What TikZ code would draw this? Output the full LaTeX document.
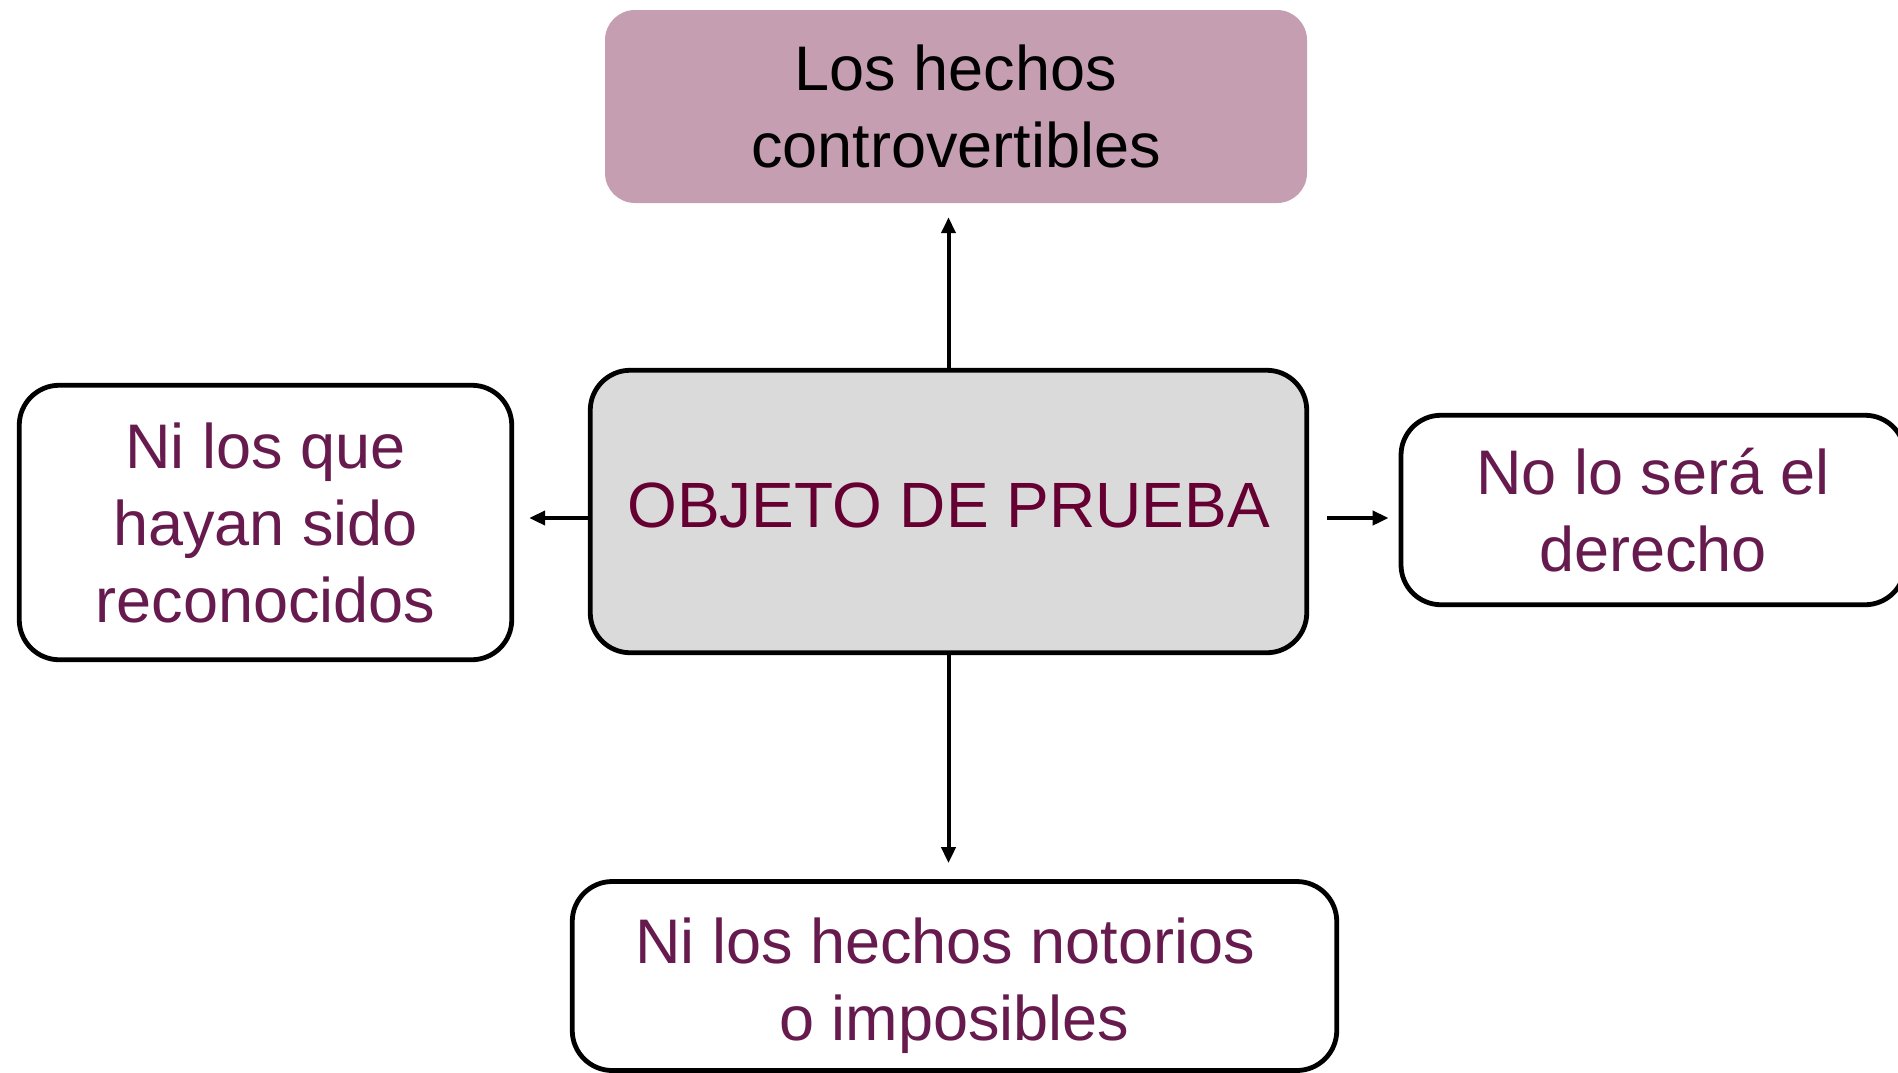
\documentclass[tikz,border=0pt]{standalone}
\usepackage{fontspec}
\setmainfont{Liberation Sans}
\usetikzlibrary{arrows.meta}
\definecolor{txtpurple}{HTML}{661A4D}
\definecolor{txtmaroon}{HTML}{660033}
\definecolor{mauvefill}{RGB}{198,158,178}
\definecolor{grayfill}{RGB}{218,218,218}
\tikzset{
  box/.style={draw=black, line width=4.8pt, rounded corners=40pt, fill=white, align=center,
    inner sep=0pt, text=txtpurple, font=\fontsize{63}{77}\selectfont},
  topbox/.style={fill=mauvefill, rounded corners=30pt, align=center, inner sep=0pt,
    text=black, font=\fontsize{63}{77}\selectfont},
  centerbox/.style={box, fill=grayfill, text=txtmaroon, font=\fontsize{64}{77}\selectfont},
  link/.style={line width=4pt, -{Triangle[length=16pt,width=14pt]}}
}
\begin{document}
\begin{tikzpicture}[x=1pt,y=-1pt]
\useasboundingbox (0,0) rectangle (1898,1072);
\node[topbox, minimum width=702pt, minimum height=193pt] (t) at (956,106.5)
  {Los hechos\\controvertibles};
\node[centerbox, minimum width=716.5pt, minimum height=282.5pt] (c) at (948.5,511.5)
  {OBJETO DE PRUEBA\rule[-12pt]{0pt}{0pt}};
\node[box, minimum width=492.5pt, minimum height=274.5pt] (l) at (265.5,522.5)
  {Ni los que\\hayan sido\\reconocidos};
\node[box, minimum width=504pt, minimum height=189.5pt] (r) at (1653,510)
  {No lo será el\\derecho};
\node[box, minimum width=764.5pt, minimum height=189pt] (b) at (954.5,976)
  {\rule{0pt}{65pt}Ni los hechos notorios\hspace*{19pt}\\o imposibles};
\coordinate (ya) at (0,518);
\coordinate (cl) at (c.west |- ya);
\coordinate (cr) at (c.east |- ya);
\draw[link, shorten >=14pt] (c.north) -- (c.north |- t.south);
\draw[link, shorten >=16pt] (c.south) -- (c.south |- b.north);
\draw[link, shorten >=15pt] (cl) -- (l.east |- ya);
\draw[link, shorten <=18pt, shorten >=10pt] (cr) -- (r.west |- ya);
\end{tikzpicture}
\end{document}
